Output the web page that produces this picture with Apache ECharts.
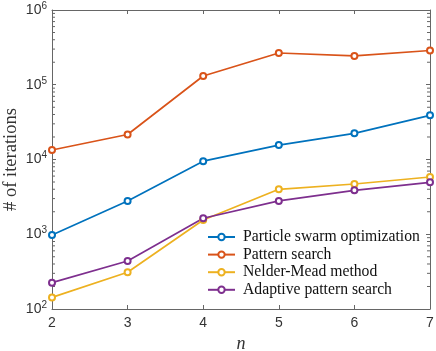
<!DOCTYPE html>
<html>
<head>
<meta charset="utf-8">
<script src="https://cdn.jsdelivr.net/npm/echarts@6/dist/echarts.min.js"></script>
<style>
  html, body { margin: 0; padding: 0; background: #fff; }
  #main { width: 436px; height: 351px; }
</style>
</head>
<body>
<div id="main"></div>
<script>
// data
var nValues = [2, 3, 4, 5, 6, 7];
var seriesNames = ['Particle swarm optimization', 'Pattern search', 'Nelder-Mead method', 'Adaptive pattern search'];
var pso = [980, 2790, 9500, 15600, 22400, 39000];
var patternSearch = [13400, 21600, 131000, 266000, 243000, 287000];
var nelderMead = [143, 310, 1550, 3990, 4700, 5830];
var adaptivePS = [225, 439, 1635, 2790, 3870, 4950];
var colors = ['#0072BD', '#D95319', '#EDB120', '#7E2F8E'];

var allValues = [pso, patternSearch, nelderMead, adaptivePS];

// minor ticks for the log axis (2..9 in each decade)
var minorTicks = [];
for (var d = 2; d < 6; d++) {
  for (var m = 2; m <= 9; m++) minorTicks.push([m * Math.pow(10, d)]);
}

var myChart = echarts.init(document.getElementById('main'));

var series = allValues.map(function (vals, i) {
  return {
    name: seriesNames[i],
    type: 'line',
    data: vals.map(function (v, k) { return [nValues[k], v]; }),
    symbol: 'emptyCircle',
    symbolSize: 6,
    lineStyle: { width: 1.7, color: colors[i] },
    itemStyle: { color: colors[i], borderWidth: 1.6 },
    z: 3
  };
});

// minor ticks drawn through the axis scale
series.push({
  type: 'custom',
  silent: true,
  data: minorTicks,
  encode: { y: 0 },
  renderItem: function (params, api) {
    var v = api.value(0);
    var l = api.coord([2, v]);
    var r = api.coord([7, v]);
    var st = { stroke: '#666', lineWidth: 1 };
    return {
      type: 'group',
      children: [
        { type: 'line', shape: { x1: l[0], y1: l[1], x2: l[0] + 3, y2: l[1] }, style: st },
        { type: 'line', shape: { x1: r[0], y1: r[1], x2: r[0] - 3, y2: r[1] }, style: st }
      ]
    };
  },
  z: 1
});

var axisLine = { show: true, lineStyle: { color: '#666', width: 1 } };

var option = {
  animation: false,
  backgroundColor: '#fff',
  grid: { left: 52, right: 6, top: 10, bottom: 42, outerBoundsMode: 'none', containLabel: false },
  legend: {
    data: seriesNames,
    orient: 'vertical',
    left: 202,
    top: 224,
    itemWidth: 27,
    itemHeight: 8,
    itemGap: 1.6,
    textStyle: { fontFamily: 'Liberation Serif', fontSize: 15.7, lineHeight: 16, color: '#111', padding: [0, 0, 0, 3] }
  },
  xAxis: [{
    type: 'value',
    min: 2, max: 7, interval: 1,
    name: 'n',
    nameLocation: 'middle',
    nameGap: 26,
    nameMoveOverlap: false,
    nameTextStyle: { fontFamily: 'Liberation Serif', fontStyle: 'italic', fontSize: 18, color: '#333' },
    axisLine: axisLine,
    axisTick: { inside: true, length: 4, lineStyle: { color: '#666' } },
    axisLabel: { fontFamily: 'Liberation Sans', fontSize: 14, color: '#333', margin: 7 },
    splitLine: { show: false }
  }, {
    type: 'value',
    position: 'top',
    min: 2, max: 7, interval: 1,
    axisLine: axisLine,
    axisTick: { inside: true, length: 4, lineStyle: { color: '#666' } },
    axisLabel: { show: false },
    splitLine: { show: false }
  }],
  yAxis: [{
    type: 'log',
    logBase: 10,
    min: 100, max: 1000000,
    name: '# of iterations',
    nameLocation: 'middle',
    nameGap: 31,
    nameMoveOverlap: false,
    nameTextStyle: { fontFamily: 'Liberation Serif', fontSize: 18.5, color: '#333' },
    axisLine: axisLine,
    axisTick: { inside: true, length: 4, lineStyle: { color: '#666' } },
    axisLabel: {
      margin: 5,
      fontFamily: 'Liberation Sans', fontSize: 14, color: '#333',
      formatter: function (v) {
        return '10{s|' + Math.round(Math.log10(v)) + '}';
      },
      rich: {
        s: { fontFamily: 'Liberation Sans', fontSize: 10, color: '#333', verticalAlign: 'top', padding: [0, 0, 8, 0] }
      }
    },
    splitLine: { show: false }
  }, {
    type: 'log',
    logBase: 10,
    min: 100, max: 1000000,
    position: 'right',
    axisLine: axisLine,
    axisTick: { inside: true, length: 4, lineStyle: { color: '#666' } },
    axisLabel: { show: false },
    splitLine: { show: false }
  }],
  series: series
};

myChart.setOption(option);
</script>
</body>
</html>
